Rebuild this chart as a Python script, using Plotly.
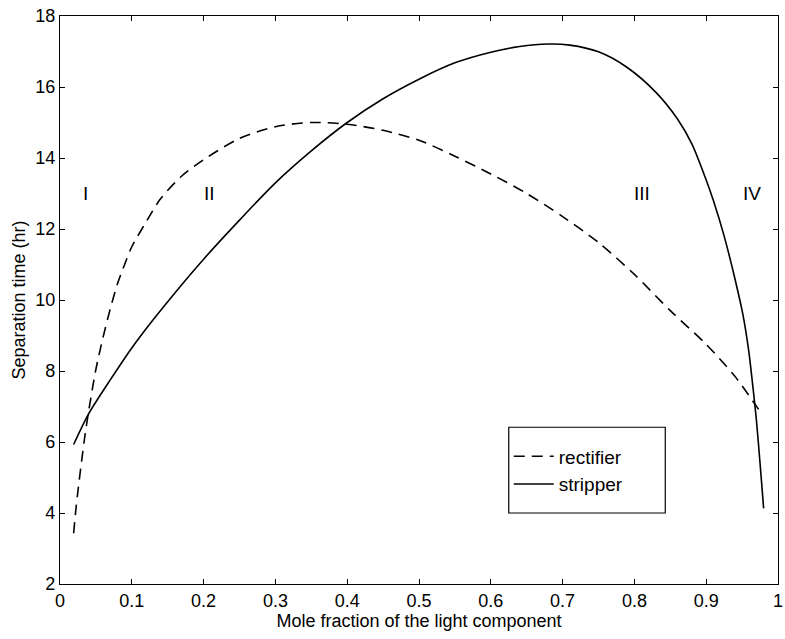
import plotly.graph_objects as go

# Rectifier (dashed)
rect_x = [0.019, 0.022, 0.025, 0.030, 0.035, 0.040, 0.050, 0.060, 0.070, 0.080, 0.090, 0.100,
          0.120, 0.140, 0.170, 0.200, 0.250, 0.300, 0.350, 0.400, 0.450, 0.500, 0.550,
          0.600, 0.650, 0.700, 0.750, 0.800, 0.850, 0.900, 0.940, 0.973]
rect_y = [3.43, 4.08, 4.62, 5.45, 6.22, 6.88, 8.05, 8.95, 9.75, 10.45, 11.00, 11.50,
          12.20, 12.85, 13.50, 13.95, 14.55, 14.88, 15.00, 14.95, 14.78, 14.50, 14.05,
          13.55, 13.00, 12.35, 11.62, 10.72, 9.70, 8.75, 7.85, 6.92]

# Stripper (solid)
strip_x = [0.019, 0.040, 0.070, 0.100, 0.130, 0.160, 0.200, 0.250, 0.300, 0.350, 0.400,
           0.450, 0.500, 0.550, 0.600, 0.640, 0.680, 0.710, 0.750, 0.790, 0.830, 0.860,
           0.880, 0.900, 0.910, 0.925, 0.940, 0.951, 0.959, 0.965, 0.970, 0.975, 0.980]
strip_y = [5.93, 6.80, 7.75, 8.65, 9.45, 10.20, 11.15, 12.25, 13.30, 14.20, 15.00,
           15.67, 16.22, 16.68, 16.98, 17.14, 17.21, 17.18, 16.99, 16.55, 15.85, 15.10,
           14.40, 13.38, 12.80, 11.80, 10.60, 9.60, 8.60, 7.56, 6.60, 5.40, 4.13]

region_labels = ["I", "II", "III", "IV"]
region_x = [0.035, 0.208, 0.81, 0.964]
region_y = [13, 13, 13, 13]

x_ticks = [0, 0.1, 0.2, 0.3, 0.4, 0.5, 0.6, 0.7, 0.8, 0.9, 1]
x_ticktext = ["0", "0.1", "0.2", "0.3", "0.4", "0.5", "0.6", "0.7", "0.8", "0.9", "1"]
y_ticks = [2, 4, 6, 8, 10, 12, 14, 16, 18]

FONT = "Liberation Sans, Arial, Helvetica, sans-serif"

fig = go.Figure()
fig.add_trace(go.Scatter(x=rect_x, y=rect_y, mode="lines", name="rectifier",
                         line=dict(color="black", width=1.6, dash="11px,7px",
                                   shape="spline", smoothing=0.8)))
fig.add_trace(go.Scatter(x=strip_x, y=strip_y, mode="lines", name="stripper",
                         line=dict(color="black", width=1.6, shape="spline", smoothing=0.8)))

for t, xx, yy in zip(region_labels, region_x, region_y):
    fig.add_annotation(x=xx, y=yy, text=t, showarrow=False,
                       font=dict(family=FONT, size=19, color="black"))

axis_common = dict(showline=True, linecolor="black", linewidth=1.2, mirror="ticks",
                   ticks="inside", ticklen=5, tickcolor="black", tickwidth=1,
                   showgrid=False, zeroline=False, ticklabeloverflow="allow",
                   automargin=False,
                   tickfont=dict(family=FONT, size=18, color="black"))

fig.update_xaxes(range=[0, 1], tickvals=x_ticks, ticktext=x_ticktext,
                 title=dict(text="Mole fraction of the light component",
                            font=dict(family=FONT, size=18, color="black"), standoff=2),
                 **axis_common)
fig.update_yaxes(range=[2, 18], tickvals=y_ticks,
                 title=dict(text="Separation time (hr)",
                            font=dict(family=FONT, size=18, color="black"), standoff=4),
                 **axis_common)

# legend frame (decoration, paper coordinates)
fig.add_shape(type="rect", xref="paper", yref="paper",
              x0=0.625, x1=0.843, y0=0.125, y1=0.276,
              line=dict(color="black", width=1.2), fillcolor="white", layer="below")

fig.update_layout(
    width=785, height=639,
    margin=dict(l=60, r=7, t=16, b=55),
    plot_bgcolor="white", paper_bgcolor="white",
    showlegend=True,
    legend=dict(x=0.625, y=0.258, xanchor="left", yanchor="top",
                bgcolor="rgba(0,0,0,0)", borderwidth=0,
                font=dict(family=FONT, size=19, color="black"),
                itemwidth=40, tracegroupgap=6),
)

fig.write_html("out.html")
